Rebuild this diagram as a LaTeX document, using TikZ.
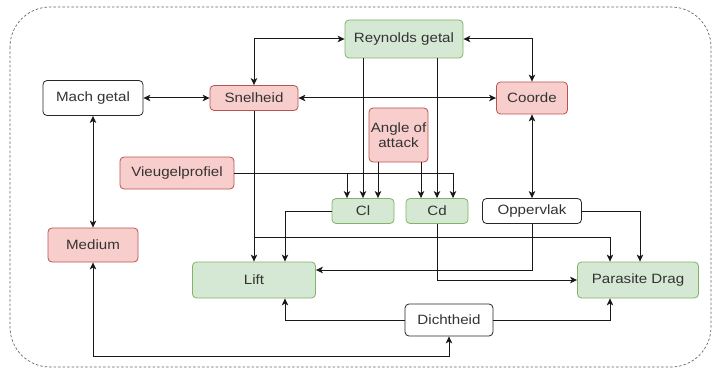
\documentclass[tikz,border=0pt]{standalone}
\usepackage{fontspec}
\setmainfont[FakeStretch=1.12]{Liberation Sans}
\usepackage{tikz}
\usetikzlibrary{arrows.meta}

\definecolor{greenfill}{HTML}{D5E8D4}
\definecolor{greenline}{HTML}{82B366}
\definecolor{redfill}{HTML}{F8CECC}
\definecolor{redline}{HTML}{B85450}

\tikzset{
 box/.style={draw, rounded corners=4pt, line width=0.8pt, inner sep=0pt, text=black!80,
   font=\fontsize{13.5}{15}\selectfont, align=center},
 greenbox/.style={box, fill=greenfill, draw=greenline},
 redbox/.style={box, fill=redfill, draw=redline},
 whitebox/.style={box, fill=white, draw=black!85},
 link/.style={line width=1pt, draw=black!90},
 >={Stealth[length=7pt,width=6.5pt,inset=1.8pt]}
}

\begin{document}
\begin{tikzpicture}[x=1pt,y=-1pt]
 \path[use as bounding box] (0,0) rectangle (713,369);
\draw[black!60, line width=0.7pt, dash pattern=on 2.5pt off 2pt, rounded corners=40pt] (10,7) rectangle (711,367);

\node[greenbox, minimum width=118pt, minimum height=38pt] (reynolds) at (404,39) {Reynolds getal};
\node[whitebox, minimum width=100pt, minimum height=35pt] (mach) at (93,98) {Mach getal};
\node[redbox, minimum width=88pt, minimum height=25pt] (snelheid) at (254,98) {Snelheid};
\node[redbox, minimum width=71pt, minimum height=32pt] (coorde) at (532,98) {Coorde};
\node[redbox, minimum width=59pt, minimum height=54pt] (angle) at (398.5,135) {Angle of\\attack};
\node[redbox, minimum width=114pt, minimum height=32pt] (vleugel) at (177,173) {Vieugelprofiel};
\node[greenbox, minimum width=62pt, minimum height=25pt] (cl) at (363,211) {Cl};
\node[greenbox, minimum width=62pt, minimum height=25pt] (cd) at (437,211) {Cd};
\node[whitebox, minimum width=99pt, minimum height=25pt] (oppervlak) at (532,211) {Oppervlak};
\node[redbox, minimum width=90pt, minimum height=34pt] (medium) at (93,245) {Medium};
\node[greenbox, minimum width=123pt, minimum height=36pt] (lift) at (254,280) {Lift};
\node[greenbox, minimum width=121pt, minimum height=36pt] (parasite) at (638,280) {Parasite Drag};
\node[whitebox, minimum width=88pt, minimum height=32pt] (dichtheid) at (449,320) {Dichtheid};

\draw[link,<->] (snelheid.north) |- (reynolds.west);
\draw[link,<->] (reynolds.east) -| (coorde.north);
\draw[link,<->] (mach.east) -- (snelheid.west);
\draw[link,<->] (snelheid.east) -- (coorde.west);
\draw[link,<->] (mach.south) -- (medium.north);
\draw[link,<->] (coorde.south) -- (oppervlak.north);

\draw[link,->] (cl.north |- reynolds.south) -- (cl.north);
\draw[link,->] (cd.north |- reynolds.south) -- (cd.north);
\draw[link,->] ([xshift=15]cl.north |- angle.south) -- ([xshift=15]cl.north);
\draw[link,->] ([xshift=-16]cd.north |- angle.south) -- ([xshift=-16]cd.north);
\draw[link,->] (vleugel.east) -| ([xshift=-16]cl.north);
\draw[link,->] (vleugel.east) -| ([xshift=16]cd.north);

\draw[link,->] (snelheid.south) -- (lift.north);
\draw[link,->] (cl.west) -| ([xshift=31]lift.north);
\draw[link,->] (snelheid.south) -- ++(0,127) -| ([xshift=-28]parasite.north);
\draw[link,->] (oppervlak.south) |- ([yshift=10]lift.east);
\draw[link,->] (oppervlak.east) -| ([xshift=2]parasite.north);
\draw[link,->] (cd.south) |- (parasite.west);
\draw[link,->] (dichtheid.west) -| ([xshift=31]lift.south);
\draw[link,->] (dichtheid.east) -| ([xshift=-28]parasite.south);
\draw[link,<->] (medium.south) -- ++(0,94) -| (dichtheid.south);

\end{tikzpicture}
\end{document}
